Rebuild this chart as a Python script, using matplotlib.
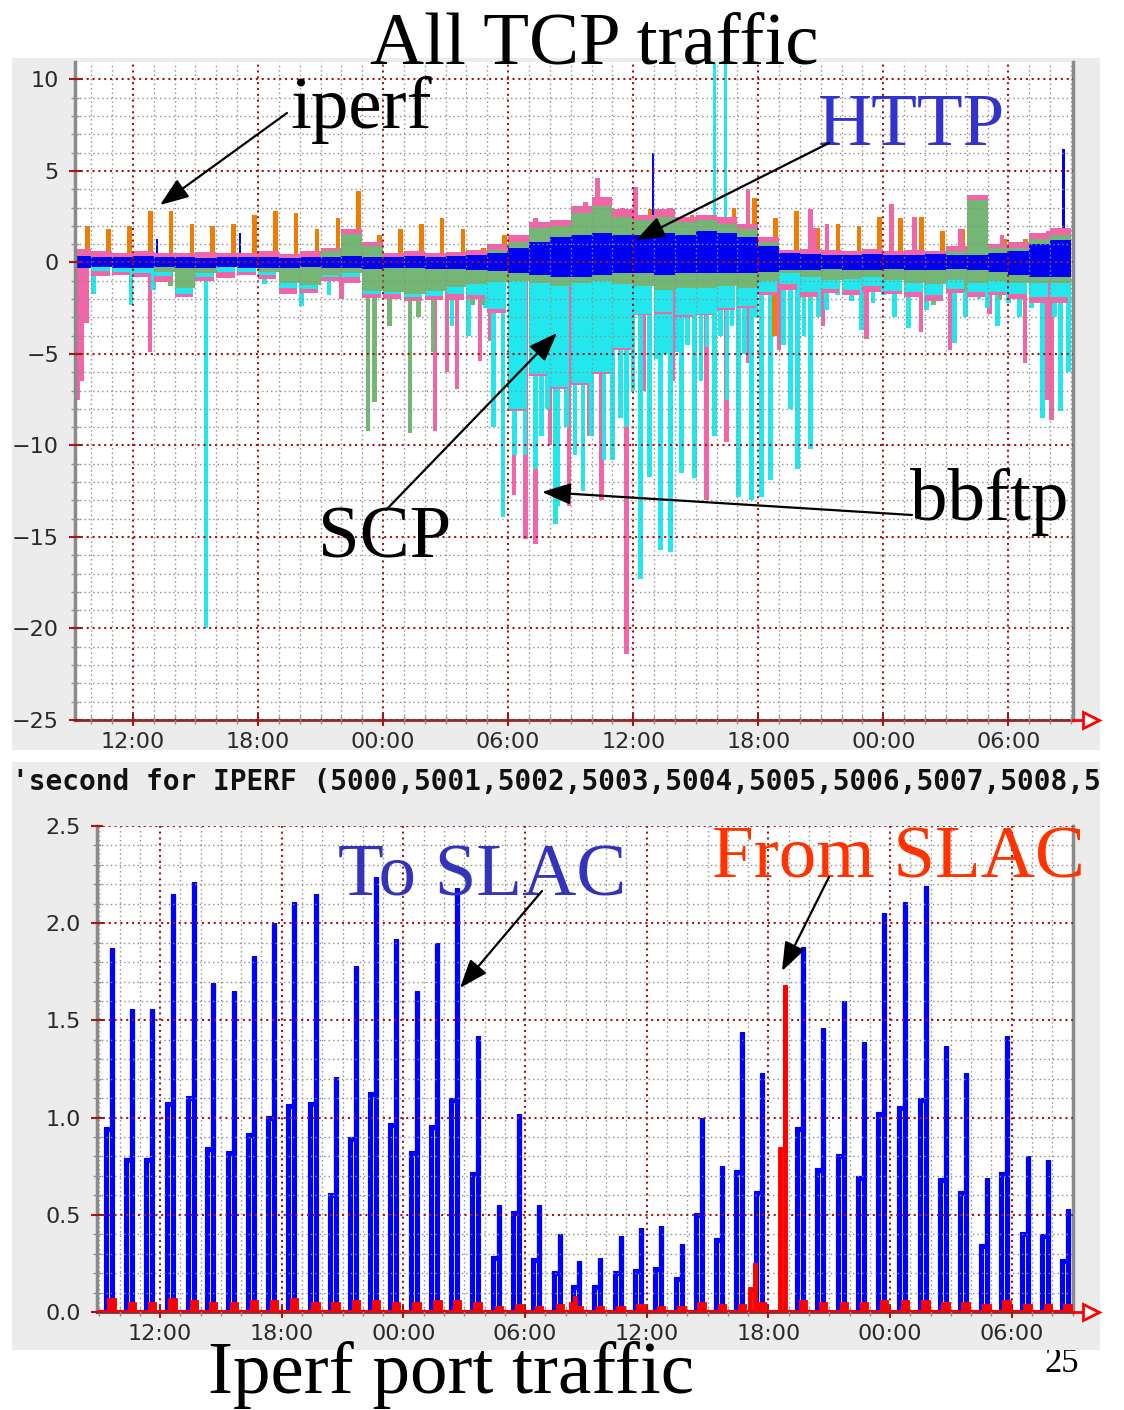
import numpy as np
import matplotlib.pyplot as plt
from matplotlib.patches import Rectangle, FancyArrowPatch
from matplotlib.ticker import MultipleLocator, FixedLocator, FuncFormatter
from matplotlib.transforms import Bbox

# time axis: hours counted from 00:00 of the first day
tick_hours = [12, 18, 24, 30, 36, 42, 48, 54]
tick_labels = ["12:00", "18:00", "00:00", "06:00", "12:00", "18:00", "00:00", "06:00"]

# ---- top panel: all TCP traffic, hourly layers from 09:00 (one value per hour) ----
band_start = 9
blue_up = [0.35, 0.3, 0.3, 0.35, 0.3, 0.3, 0.25, 0.3, 0.3, 0.3,
           0.25, 0.3, 0.3, 0.35, 0.3, 0.3, 0.35, 0.3, 0.35, 0.4,
           0.5, 0.8, 1.1, 1.4, 1.5, 1.6, 1.5, 1.5, 1.6, 1.5,
           1.7, 1.6, 1.4, 0.9, 0.5, 0.45, 0.4, 0.4, 0.45, 0.4,
           0.4, 0.45, 0.4, 0.4, 0.5, 0.6, 1.0, 1.2]
green_up = [0, 0, 0, 0, 0, 0, 0, 0, 0, 0,
            0, 0, 0.3, 1.2, 0.6, 0, 0, 0, 0, 0,
            0.2, 0.3, 0.8, 0.6, 1.2, 1.5, 1.0, 0.8, 0.9, 0.7,
            0.6, 0.5, 0.4, 0.2, 0, 0, 0, 0, 0, 0,
            0, 0, 0.2, 3.0, 0.3, 0.2, 0.3, 0.3]
pink_up = [0.4, 0.3, 0.2, 0.3, 0.2, 0.2, 0.3, 0.2, 0.2, 0.3,
           0.2, 0.3, 0.2, 0.3, 0.2, 0.2, 0.3, 0.2, 0.2, 0.3,
           0.3, 0.4, 0.3, 0.3, 0.4, 0.5, 0.4, 0.3, 0.4, 0.3,
           0.3, 0.4, 0.3, 0.3, 0.2, 0.3, 0.3, 0.2, 0.3, 0.2,
           0.3, 0.2, 0.3, 0.3, 0.2, 0.3, 0.3, 0.4]
blue_dn = [-0.3, -0.25, -0.3, -0.3, -0.25, -0.3, -0.3, -0.25, -0.3, -0.3,
           -0.3, -0.25, -0.3, -0.3, -0.35, -0.3, -0.3, -0.35, -0.35, -0.4,
           -0.45, -0.6, -0.7, -0.8, -0.8, -0.7, -0.6, -0.6, -0.7, -0.6,
           -0.6, -0.6, -0.6, -0.5, -0.4, -0.4, -0.35, -0.4, -0.4, -0.35,
           -0.4, -0.4, -0.35, -0.4, -0.5, -0.7, -0.8, -0.8]
green_dn = [0, 0, 0, 0, -0.3, -1.1, -0.3, 0, 0, -0.2,
            -0.8, -1.0, -0.4, -0.3, -1.2, -1.3, -1.4, -1.2, -1.0, -0.8,
            -0.6, -0.4, -0.4, -0.5, -0.3, -0.3, -0.6, -0.7, -0.8, -0.8,
            -0.8, -0.7, -0.8, -0.5, -0.2, -0.4, -0.6, -0.5, -0.4, -0.6,
            -0.7, -0.8, -0.6, -0.7, -0.5, -0.4, -0.3, -0.3]
cyan_dn = [0, -0.2, -0.2, -0.3, -0.2, -0.3, -0.2, -0.3, -0.2, -0.2,
           -0.3, -0.2, -0.1, -0.2, -0.2, -0.1, -0.2, -0.3, -0.4, -0.6,
           -1.5, -7.0, -5.0, -5.5, -5.5, -5.0, -3.5, -1.5, -1.2, -1.5,
           -1.4, -1.2, -1.0, -0.6, -0.6, -0.8, -0.5, -0.6, -0.5, -0.6,
           -0.5, -0.6, -0.5, -0.5, -0.6, -0.6, -0.8, -0.8]
pink_dn = [-3.0, -0.3, -0.2, -0.2, -0.3, -0.2, -0.2, -0.3, -0.2, -0.2,
           -0.3, -0.2, -0.2, -0.3, -0.2, -0.3, -0.2, -0.2, -0.3, -0.2,
           -0.2, -0.1, -0.1, -0.1, -0.1, -0.1, -0.1, -0.1, -0.1, -0.1,
           -0.1, -0.1, -0.1, -0.2, -0.3, -0.3, -0.2, -0.3, -0.3, -0.2,
           -0.3, -0.3, -0.2, -0.3, -0.2, -0.3, -0.3, -0.3]

# iperf tests, hourly at hh:50 starting 09:50
iperf_first, iperf_step = 9.83, 1.0
iperf_v = [2.0, 1.8, 2.0, 2.8, 2.8, 2.1, 2.0, 2.1, 2.6, 2.8, 2.7, 1.8, 2.4, 3.9,
           1.5, 1.8, 2.1, 2.4, 1.8, 0.8, 1.5, 1.4,
           1.8, 2.0, 2.2, 2.5, 2.4, 2.9, 2.3, 2.6, 2.5, 3.0, 3.5,
           2.4, 2.8, 1.9, 2.1, 2.0, 2.5, 2.4, 2.5, 1.7, 1.8, 1.6, 1.3, 1.3, 1.6, 1.8]

# individual transfers (hour, Mbits/s)
cyan_t = [10.1, 11.9, 13.0, 15.5, 18.3, 20.1, 21.4, 24.0,
          27.3, 28.1, 28.9, 29.3, 29.76, 30.3, 30.8, 31.3, 31.6, 31.9, 32.26, 32.4,
          32.8, 33.2, 33.6, 34.0, 34.6, 35.0, 35.4, 35.67, 36.0, 36.34, 36.77, 37.1,
          37.3, 37.55, 37.78, 38.1, 38.31, 38.6, 38.93, 39.25, 39.55, 39.9, 40.2,
          40.5, 40.75, 41.04, 41.35, 41.67, 41.9, 42.15, 42.58, 43.2, 43.55, 43.88,
          44.2, 44.5, 44.9, 45.27, 45.8, 46.47, 46.95, 47.5, 48.0, 48.53, 49.21,
          50.07, 50.7, 51.41, 51.94, 52.6, 53.0, 53.48, 54.0, 54.53, 55.1, 55.64,
          56.2, 56.5, 56.89]
cyan_v = [-1.7, -2.3, -1.5, -20.0, -1.2, -2.4, -1.8, -1.5,
          -3.5, -4.0, -2.5, -9.0, -13.9, -10.5, -10.5, -11.3, -9.5, -8.0, -14.3, -13.3,
          -9.0, -10.5, -12.5, -9.5, -10.8, -10.8, -8.5, -9.0, -7.0, -17.3, -11.7, -5.3,
          -15.7, -5.0, -15.8, -4.9, -11.5, -4.5, -11.8, -6.5, -4.6, -9.5, -4.0,
          -7.5, -3.5, -12.8, -5.0, -13.0, -3.0, -12.8, -11.9, -4.5, -8.0, -11.3,
          -4.0, -10.2, -3.0, -2.6, -1.8, -2.1, -3.7, -2.2, -1.8, -3.0, -3.6,
          -2.6, -1.8, -4.4, -3.0, -2.0, -2.5, -3.5, -2.2, -3.0, -2.5, -8.5,
          -3.0, -8.1, -6.0]
pink_t = [9.35, 9.55, 12.82, 22.0, 26.5, 27.06, 27.54, 28.66, 29.14, 30.29, 30.82,
          31.3, 32.0, 32.93, 33.9, 34.47, 35.67, 36.5, 37.9, 39.51, 40.47, 41.5,
          43.0, 45.1, 47.2, 49.8, 51.2, 53.1, 54.8, 55.85, 56.07]
pink_v = [-7.5, -6.5, -4.9, -2.0, -9.2, -6.0, -6.9, -5.4, -4.3, -12.7, -15.1,
          -15.4, -10.0, -13.3, -9.5, -13.0, -21.4, -7.0, -6.5, -13.0, -9.8, -5.5,
          -4.8, -3.5, -4.2, -3.8, -4.8, -2.8, -5.5, -7.5, -8.6]
green_t = [13.8, 14.4, 19.6, 20.6, 23.28, 23.6, 24.3, 25.3, 25.7, 26.4, 28.3, 28.8,
           50.4, 52.0, 53.6]
green_v = [-1.3, -1.3, -1.5, -1.5, -9.2, -7.6, -3.5, -9.3, -3.0, -4.9, -2.3, -2.3,
           -2.3, -1.6, -2.0]
orange_dn_t = [42.77]
orange_dn_v = [-4.0]
pink_up_t = [31.3, 33.3, 33.7, 34.3, 34.6, 35.5, 36.1, 37.8, 41.5, 44.5, 44.7,
             45.3, 48.4, 49.5, 51.7, 53.7, 55.9]
pink_up_v = [2.4, 2.9, 3.3, 4.6, 3.5, 3.0, 4.1, 3.0, 4.0, 2.9, 1.9,
             2.1, 3.2, 2.5, 1.8, 1.5, 1.7]
blue_sp_t = [13.15, 17.14, 36.96, 56.65]
blue_sp_v = [1.3, 1.6, 6.0, 6.2]
cyan_up_t = [39.9, 40.45]
cyan_up_v = [11.5, 11.5]

# ---- bottom panel: iperf port traffic (Mbits/s) ----
to_t = [9.62, 10.63, 11.62, 12.63, 13.68, 14.63, 15.65, 16.65, 17.64, 18.62,
        19.68, 20.66, 21.66, 22.65, 23.64, 24.66, 25.68, 26.66, 27.67, 28.72,
        29.70, 30.70, 31.72, 32.68, 33.70, 34.72, 35.70, 36.70, 37.72, 38.71,
        39.73, 40.71, 41.70, 43.72, 44.70, 45.73, 46.73, 47.72, 48.74, 49.76,
        50.74, 51.74, 52.76, 53.75, 54.79, 55.80, 56.76]
to_peak = [1.87, 1.56, 1.56, 2.15, 2.21, 1.69, 1.65, 1.83, 2.00, 2.11,
           2.15, 1.21, 1.78, 2.24, 1.92, 1.65, 1.90, 2.18, 1.42, 0.55,
           1.02, 0.55, 0.40, 0.26, 0.28, 0.39, 0.43, 0.44, 0.35, 1.00,
           0.75, 1.44, 1.23, 1.88, 1.46, 1.60, 1.39, 2.05, 2.11, 2.19,
           1.37, 1.23, 0.69, 1.42, 0.80, 0.78, 0.53]
to_mid = [0.94, 0.78, 0.78, 1.07, 1.10, 0.84, 0.82, 0.91, 1.00, 1.06,
          1.07, 0.60, 0.89, 1.12, 0.96, 0.82, 0.95, 1.09, 0.71, 0.28,
          0.51, 0.27, 0.20, 0.13, 0.13, 0.20, 0.21, 0.22, 0.17, 0.50,
          0.37, 0.72, 0.61, 0.94, 0.73, 0.80, 0.69, 1.02, 1.05, 1.09,
          0.68, 0.61, 0.34, 0.71, 0.40, 0.39, 0.26]
from_blip = [0.06, 0.04, 0.04, 0.06, 0.05, 0.04, 0.04, 0.05, 0.05, 0.06,
             0.04, 0.04, 0.05, 0.05, 0.04, 0.04, 0.05, 0.05, 0.04, 0.02,
             0.03, 0.02, 0.03, 0.02, 0.02, 0.02, 0.03, 0.02, 0.02, 0.04,
             0.03, 0.03, 0.04, 0.05, 0.04, 0.04, 0.04, 0.05, 0.05, 0.05,
             0.04, 0.04, 0.03, 0.05, 0.03, 0.03, 0.03]
from_t = [32.37, 41.22, 42.71]
from_peak = [0.08, 0.25, 1.68]
from_mid = [0.04, 0.12, 0.84]

BLUE, CYAN, PINK = "#0000f2", "#22e8ee", "#f266a8"
GREEN, ORANGE = "#74b774", "#f07d00"

W, H = 1124, 1410
fig = plt.figure(figsize=(W / 100, H / 100), dpi=100)


def fx(px):
    return px / W


def fy(py):
    return 1 - py / H


# light grey canvases behind both plots
for top, bot in [(58, 750), (762, 1350)]:
    fig.add_artist(Rectangle((fx(12), fy(bot)), fx(1100) - fx(12), fy(top) - fy(bot),
                             transform=fig.transFigure, facecolor="#ececec",
                             edgecolor="none", zorder=-1))

ax1 = fig.add_axes([fx(75), fy(720), fx(1073) - fx(75), fy(62) - fy(720)])
ax2 = fig.add_axes([fx(97), fy(1312), fx(1073) - fx(97), fy(826) - fy(1312)])

# top panel: stacked hourly band
hrs = np.arange(len(blue_up)) + band_start
bu, gu, pu = np.array(blue_up), np.array(green_up), np.array(pink_up)
bd, gd, cd, pd = np.array(blue_dn), np.array(green_dn), np.array(cyan_dn), np.array(pink_dn)
kw = dict(width=1.0, align="edge", linewidth=0, zorder=2)
ax1.bar(hrs, pu, bottom=bu + gu, color=PINK, **kw)
ax1.bar(hrs, gu, bottom=bu, color=GREEN, **kw)
ax1.bar(hrs, bu, color=BLUE, **kw)
ax1.bar(hrs, pd, bottom=bd + gd + cd, color=PINK, width=0.88, align="edge",
        linewidth=0, zorder=2)
ax1.bar(hrs, cd, bottom=bd + gd, color=CYAN, width=0.88, align="edge",
        linewidth=0, zorder=2)
ax1.bar(hrs, gd, bottom=bd, color=GREEN, **kw)
ax1.bar(hrs, bd, color=BLUE, **kw)

# top panel: individual spikes behind the band
sk = dict(width=0.22, linewidth=0, zorder=1.5)
iperf_t = iperf_first + iperf_step * np.arange(len(iperf_v))
ax1.bar(pink_t, pink_v, color=PINK, **sk)
ax1.bar(cyan_t, cyan_v, color=CYAN, **sk)
ax1.bar(green_t, green_v, color=GREEN, **sk)
ax1.bar(orange_dn_t, orange_dn_v, color=ORANGE, **sk)
ax1.bar(iperf_t, iperf_v, color=ORANGE, **sk)
ax1.bar(pink_up_t, pink_up_v, color=PINK, **sk)
ax1.bar(blue_sp_t, blue_sp_v, color=BLUE, width=0.12, linewidth=0, zorder=1.6)
ax1.bar(cyan_up_t, cyan_up_v, color=CYAN, width=0.14, linewidth=0, zorder=1.6)


# bottom panel: thick step-like traces
def spike_path(ts, peaks, mids, x0, x1, gap):
    xs, ys = [x0], [0.0]
    for t, p, m in sorted(zip(ts, peaks, mids)):
        xs += [t - gap, t - gap, t, t, t]
        ys += [0.0, m, m, p, 0.0]
    xs.append(x1)
    ys.append(0.0)
    return xs, ys


x0, x1 = 8.89, 57.02
bx, by = spike_path(to_t, to_peak, to_mid, x0, x1, 0.3)
ax2.plot(bx, by, color="#0000ff", lw=3.7, solid_joinstyle="miter", zorder=2)
red_t = list(to_t) + from_t
red_p = list(from_blip) + from_peak
red_m = list(from_blip) + from_mid
rx, ry = spike_path([t + 0.1 for t in red_t], red_p, red_m, x0, x1, 0.22)
ax2.plot(rx, ry, color="#ff0000", lw=3.5, solid_joinstyle="miter", zorder=3)


def style(ax, xlim, ylim, ymaj, ymin, yfmt):
    ax.set_xlim(*xlim)
    ax.set_ylim(*ylim)
    ax.xaxis.set_major_locator(FixedLocator(tick_hours))
    ax.set_xticklabels(tick_labels)
    ax.xaxis.set_minor_locator(MultipleLocator(1))
    ax.yaxis.set_major_locator(MultipleLocator(ymaj))
    ax.yaxis.set_minor_locator(MultipleLocator(ymin))
    ax.yaxis.set_major_formatter(FuncFormatter(yfmt))
    ax.set_axisbelow(False)
    ax.grid(which="minor", color="#8e8e8e", ls=(0, (1, 2.2)), lw=1.0)
    ax.grid(which="major", color="#a01818", ls=(0, (1, 1.8)), lw=1.5)
    ax.tick_params(which="major", direction="inout", length=9, width=1.5,
                   color="#a01818", labelsize=16, labelcolor="#2a2a2a")
    ax.tick_params(which="minor", direction="inout", length=6, width=1,
                   color="#8e8e8e")
    ax.tick_params(axis="y", pad=7)
    ax.tick_params(axis="x", pad=4)
    for lab in ax.get_xticklabels() + ax.get_yticklabels():
        lab.set_family("DejaVu Sans")
    for s in ("left", "right"):
        ax.spines[s].set_color("#8a8a8a")
        ax.spines[s].set_linewidth(2.5)
    ax.spines["top"].set_visible(False)
    ax.spines["bottom"].set_color("#8b2c2c")
    ax.spines["bottom"].set_linewidth(2)
    ax.plot([1.0, 1.012], [0, 0], transform=ax.transAxes, color="red", lw=2,
            clip_on=False, zorder=5)
    ax.plot([1.018], [0], transform=ax.transAxes, marker=">", ms=11, mfc="white",
            mec="red", mew=2, clip_on=False, zorder=5)


style(ax1, (9.22, 57.1), (-25, 10.95), 5, 1,
      lambda v, p: f"{int(round(v))}".replace("-", "\u2212"))
style(ax2, (x0, x1), (0, 2.5), 0.5, 0.1, lambda v, p: f"{v:.1f}")

# header line of the port graph (cut on both sides like the screenshot)
hdr = fig.text(fx(12), fy(782), "'second for IPERF (5000,5001,5002,5003,5004,5005,"
               "5006,5007,5008,5", family="DejaVu Sans Mono", weight="bold",
               size=20, color="#111111", va="center", ha="left", zorder=5)
hdr.set_clip_box(Bbox.from_extents(12, H - 1350, 1100, H - 762))
hdr.set_clip_on(True)

# slide texts
serif = "Liberation Serif"
labels = [
    ("All TCP traffic", 370, 63, "black"),
    ("iperf", 290, 128, "black"),
    ("HTTP", 818, 145, "#3333cc"),
    ("SCP", 318, 558, "black"),
    ("bbftp", 910, 520, "black"),
    ("To SLAC", 338, 895, "#3333bb"),
    ("From SLAC", 712, 878, "#ff3300"),
    ("Iperf port traffic", 208, 1393, "black"),
]
for txt, x, y, c in labels:
    fig.text(fx(x), fy(y), txt, family=serif, size=54, color=c,
             ha="left", va="baseline", zorder=6)
fig.text(fx(1045), fy(1372), "25", family=serif, size=25, color="black",
         ha="left", va="baseline", zorder=-2)

arrows = [
    ((287, 113), (160, 205)),
    ((829, 143), (636, 240)),
    ((386, 510), (557, 333)),
    ((912, 515), (542, 492)),
    ((542, 891), (460, 988)),
    ((829, 877), (782, 971)),
]
for (xa, ya), (xb, yb) in arrows:
    fig.add_artist(FancyArrowPatch((fx(xa), fy(ya)), (fx(xb), fy(yb)),
                                   transform=fig.transFigure,
                                   arrowstyle="-|>,head_length=0.8,head_width=0.3",
                                   mutation_scale=22, lw=1.6, color="black",
                                   shrinkA=0, shrinkB=0, zorder=7))

fig.savefig("out.png", dpi=100)
